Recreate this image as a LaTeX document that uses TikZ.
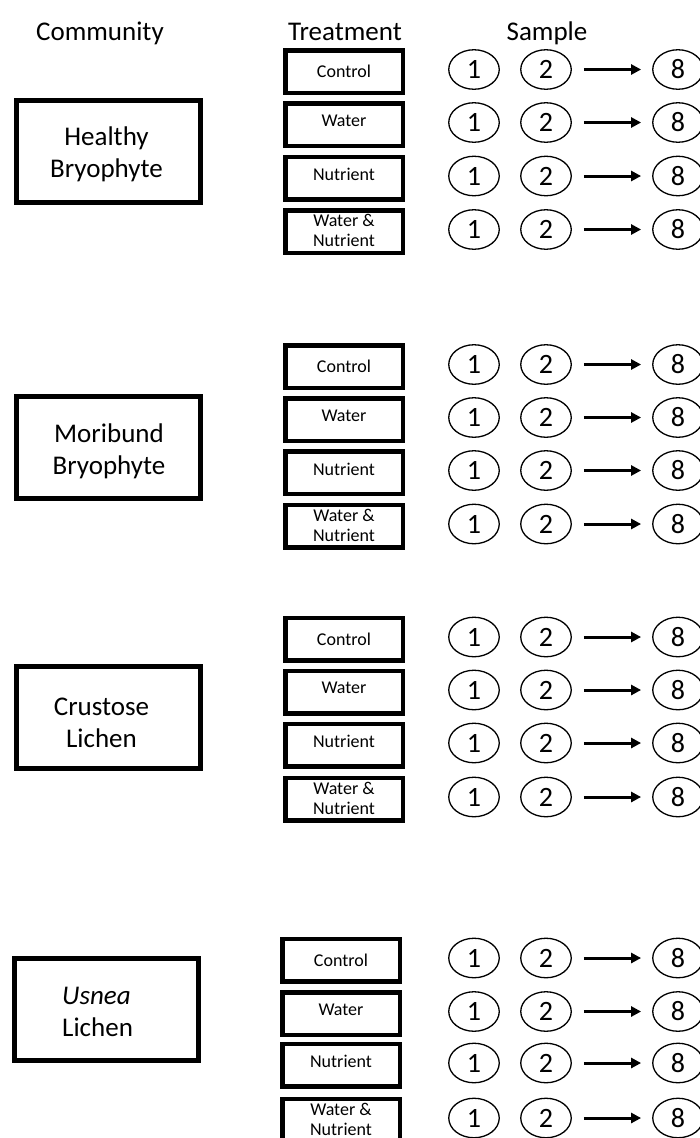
\documentclass[tikz,border=0pt]{standalone}
\usepackage{fontspec}
\setmainfont{Carlito}
\usetikzlibrary{shapes.geometric,arrows.meta}
\begin{document}
\begin{tikzpicture}[x=1pt,y=-1pt,
  header/.style={font=\fontsize{27}{32}\selectfont,anchor=base,inner sep=0pt},
  combox/.style={draw,line width=5pt,minimum width=184pt,minimum height=102pt,inner sep=0pt},
  comtext/.style={font=\fontsize{27}{32}\selectfont,align=center,inner sep=0pt},
  trtbox/.style={draw,line width=4.5pt,minimum width=117.5pt,minimum height=42.5pt,inner sep=0pt},
  trttext/.style={font=\fontsize{18}{20}\selectfont,anchor=base,inner sep=0pt},
  trttwo/.style={font=\fontsize{18}{20}\selectfont,align=center,inner sep=0pt},
  samp/.style={draw,ellipse,line width=1.3pt,minimum width=50.5pt,minimum height=39.5pt,
    inner sep=0pt,font=\fontsize{28}{30}\selectfont},
  flow/.style={line width=3pt,-{Triangle[length=10pt,width=10pt]},shorten <=12pt,shorten >=11pt}
]
\useasboundingbox (0,0) rectangle (699,1138);

% column headings
\node[header] (hcom) at (100,40) {Community};
\node[header] (htrt) at (345,40) {Treatment};
\node[header] (hsmp) at (547,40) {Sample};

% community boxes
\node[combox] (com1) at (108.5,151) {};
\node[comtext] (ct1) at (106.5,154) {Healthy\\Bryophyte};
\node[combox] (com2) at (108.5,447) {};
\node[comtext] (ct2) at (109,451) {Moribund\\Bryophyte};
\node[combox] (com3) at (108,717.5) {};
\node[comtext] (ct3) at (101.5,723) {Crustose\\Lichen};
\node[combox] (com4) at (106,1009) {};
\node[comtext,align=left,anchor=west] (ct4) at (62,1012) {\textit{Usnea}\\Lichen};

% treatments and sample series for each community
\foreach \g/\ya/\yb/\yc/\yd/\tx in {1/71.5/124.5/178/231.5/344,
                                     2/366.5/419.5/472.5/526/344,
                                     3/639/692/745/799/344,
                                     4/960/1013.5/1065/1120/341} {
  \node[trtbox] (t\g-1) at (\tx,\ya) {};
  \node[trttext] (tl\g-1) at (\tx,\ya+6) {Control};
  \node[trtbox] (t\g-2) at (\tx,\yb) {};
  \node[trttext] (tl\g-2) at (\tx,\yb+1.5) {Water};
  \node[trtbox] (t\g-3) at (\tx,\yc) {};
  \node[trttext] (tl\g-3) at (\tx,\yc+2.5) {Nutrient};
  \node[trtbox] (t\g-4) at (\tx,\yd) {};
  \node[trttwo] (tl\g-4) at (\tx,\yd-1) {Water \&\\Nutrient};
  \foreach \r/\y in {1/\ya,2/\yb,3/\yc,4/\yd} {
    \node[samp] (s\g-\r-1) at (474,\y-2) {1};
    \node[samp] (s\g-\r-2) at (546,\y-2) {2};
    \node[samp] (s\g-\r-8) at (678,\y-2) {8};
    \draw[flow] (s\g-\r-2) -- (s\g-\r-8);
  }
}
\end{tikzpicture}
\end{document}
